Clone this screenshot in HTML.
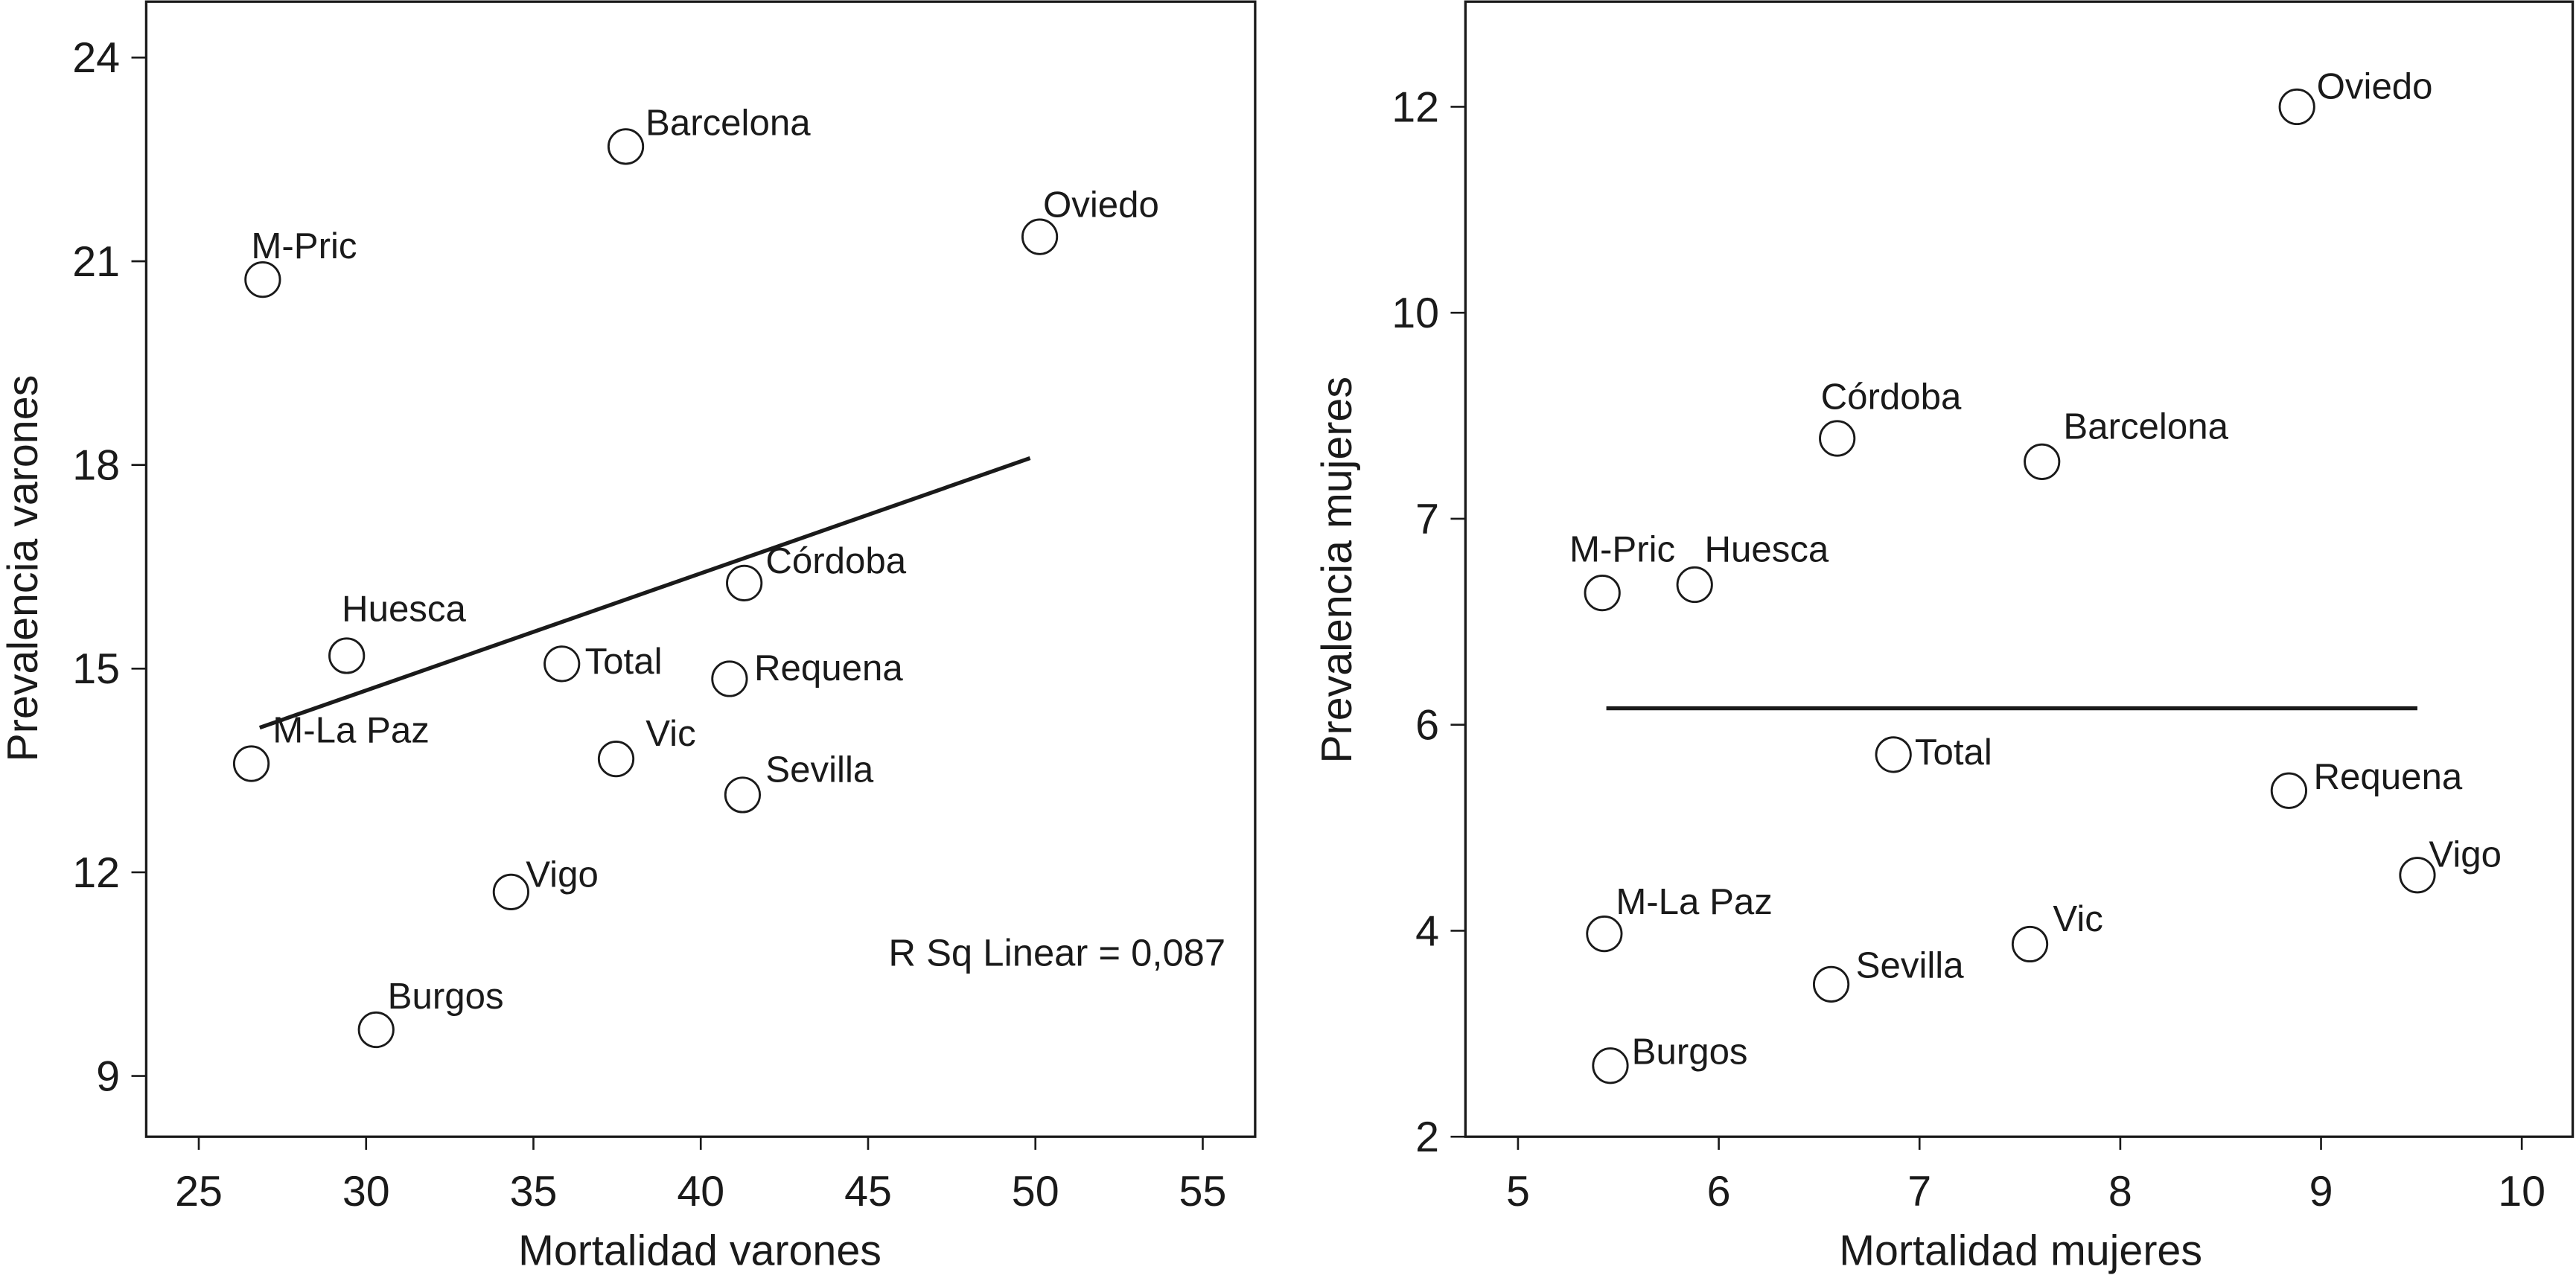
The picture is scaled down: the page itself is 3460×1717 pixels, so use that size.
<!DOCTYPE html>
<html><head><meta charset="utf-8">
<style>
html,body{margin:0;padding:0;background:#fff;}
svg{display:block;}
text{font-family:"Liberation Sans",sans-serif;fill:#1a1a1a;}
</style></head>
<body>
<svg id="chart" width="3460" height="1717" viewBox="0 0 1568 778" preserveAspectRatio="none" xmlns="http://www.w3.org/2000/svg">
<g id="left"></g>
<g id="right"></g>
</svg>
<script>
// ---- Left panel data (men) ----
const cities = ["M-Pric","Barcelona","Oviedo","Córdoba","Huesca","Total","Requena","M-La Paz","Vic","Sevilla","Vigo","Burgos"];
const menMort = [26.91,37.76,50.13,41.30,29.42,35.85,40.86,26.57,37.47,41.25,34.33,30.30];
const menPrev = [20.73,22.69,21.36,16.26,15.19,15.07,14.85,13.60,13.67,13.14,11.71,9.68];
const menFitX = [26.82,49.84];
const menFitY = [14.13,18.10];
const menXTicks = [25,30,35,40,45,50,55];
const menYTicks = [9,12,15,18,21,24];
// ---- Right panel data (women) ----
const womenMort = [5.42,7.61,8.88,6.59,5.88,6.87,8.84,5.43,7.55,6.56,9.48,5.46];
const womenPrev = [6.64,7.83,12.0,8.17,6.68,5.71,5.36,3.97,3.87,3.48,4.54,2.69];
const womenFitX = [5.44,9.48];
const womenFitY = [6.08,6.08];
const womenXTicks = [5,6,7,8,9,10];
const womenYTicks = [2,4,6,7,10,12];
// label layout offsets (px, not data)
const menLabelOff = [[-7,-13],[12,-7],[2,-12],[13,-6],[-3,-21],[14,6],[15,1],[13,-13],[18,-8],[14,-8],[9,-3],[7,-13]];
const womenLabelOff = [[-20,-19],[13,-14],[12,-5],[-10,-18],[6,-14],[13,6],[15,-1],[7,-12],[14,-8],[15,-4],[7,-5],[13,-1]];

const NS="http://www.w3.org/2000/svg";
function mk(parent,tag,attrs,txt){const e=document.createElementNS(NS,tag);for(const k in attrs)e.setAttribute(k,attrs[k]);if(txt!==undefined)e.textContent=txt;parent.appendChild(e);return e;}

// scales
const lx=v=>121+(v-25)*20.37;
const ly=v=>655-(v-9)*41.33;
const rx=v=>924+(v-5)*122.2;
const rTickPos=[692,566.6,441.2,315.8,190.4,65];
function ry(v){
  const t=womenYTicks;
  let i=0; while(i<t.length-2 && v>t[i+1]) i++;
  const f=(v-t[i])/(t[i+1]-t[i]);
  return rTickPos[i]+f*(rTickPos[i+1]-rTickPos[i]);
}

function panel(g,cfg){
  const {x0,x1,y0,y1,xs,ys,xt,yt,xv,yv,fx,fy,off,xtitle,ytitle,ytx,yty,xtx}=cfg;
  const fr=mk(g,'rect',{x:x0,y:y0,width:x1-x0,height:y1-y0,fill:'none',stroke:'#1a1a1a','stroke-width':1.5});
  
  
  xt.forEach(v=>{
    const l=mk(g,'line',{x1:xs(v),x2:xs(v),y1:y1,y2:y1+8,stroke:'#1a1a1a','stroke-width':1.2});
    
    
    const t=mk(g,'text',{x:xs(v),y:y1+42,'font-size':26,'text-anchor':'middle'},String(v));
    
    
  });
  yt.forEach(v=>{
    const l=mk(g,'line',{x1:x0-9,x2:x0,y1:ys(v),y2:ys(v),stroke:'#1a1a1a','stroke-width':1.2});
    
    
    const t=mk(g,'text',{x:x0-16,y:ys(v)+9,'font-size':26,'text-anchor':'end'},String(v));
    
    
  });
  const fl=mk(g,'line',{x1:xs(fx[0]),y1:ys(fy[0]),x2:xs(fx[1]),y2:ys(fy[1]),stroke:'#1a1a1a','stroke-width':2.4});
  
  
  cities.forEach((c,i)=>{
    const cx=xs(xv[i]),cy=ys(yv[i]);
    const p=mk(g,'circle',{cx:cx,cy:cy,r:10.5,fill:'#fff',stroke:'#1a1a1a','stroke-width':1.3});
    
    
    const t=mk(g,'text',{x:cx+off[i][0],y:cy+off[i][1],'font-size':22.3},c);
    
    
  });
  const xtl=mk(g,'text',{x:xtx,y:770,'font-size':26,'text-anchor':'middle'},xtitle);
  
  
  const ytl=mk(g,'text',{x:ytx,y:yty,'font-size':26,'text-anchor':'middle',transform:`rotate(-90 ${ytx} ${yty})`,'dominant-baseline':'central'},ytitle);
  
  
}

const L=document.getElementById('left'),R=document.getElementById('right');
panel(L,{x0:89,x1:764,y0:1,y1:692,xs:lx,ys:ly,xt:menXTicks,yt:menYTicks,xv:menMort,yv:menPrev,fx:menFitX,fy:menFitY,off:menLabelOff,xtitle:'Mortalidad varones',ytitle:'Prevalencia varones',ytx:14,yty:346,xtx:426});
panel(R,{x0:892,x1:1566,y0:1,y1:692,xs:rx,ys:ry,xt:womenXTicks,yt:womenYTicks,xv:womenMort,yv:womenPrev,fx:womenFitX,fy:womenFitY,off:womenLabelOff,xtitle:'Mortalidad mujeres',ytitle:'Prevalencia mujeres',ytx:814,yty:347,xtx:1230});
const rs=mk(L,'text',{x:746,y:588,'font-size':23,'text-anchor':'end'},'R Sq Linear = 0,087');


</script>
</body></html>
